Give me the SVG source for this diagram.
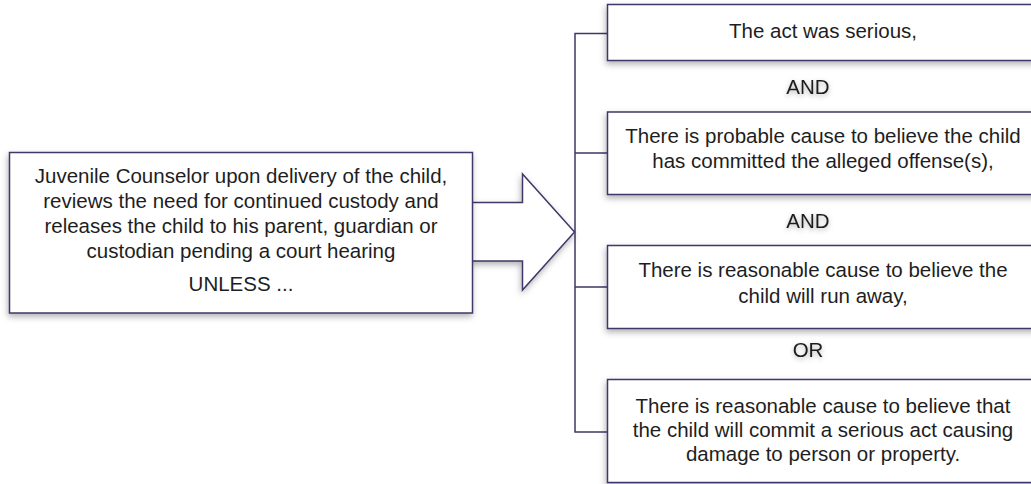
<svg xmlns="http://www.w3.org/2000/svg" width="1031" height="484" viewBox="0 0 1031 484">
<defs>
<filter id="sh" x="-10%" y="-20%" width="120%" height="150%">
<feDropShadow dx="-1" dy="3" stdDeviation="3" flood-color="#000" flood-opacity="0.3"/>
</filter>
<filter id="tsh" x="-30%" y="-50%" width="160%" height="220%">
<feDropShadow dx="0" dy="2" stdDeviation="2.5" flood-color="#000" flood-opacity="0.3"/>
</filter>
<style>
.box{fill:#fff;stroke:#3f3768;stroke-width:1.5;filter:url(#sh)}
.t{font-family:"Liberation Sans",Arial,sans-serif;font-size:20.5px;fill:#1e1e1e;text-anchor:middle}
.lbl{filter:url(#tsh)}
.con{fill:none;stroke:#3f3768;stroke-width:1.5}
</style>
</defs>
<rect width="1031" height="484" fill="#fff"/>
<g id="connectors">
<path class="con" d="M607,33.5 H575 V432 H607 M575,153 H607 M575,287 H607"/>
<polygon class="box" points="472,202.5 522.5,202.5 522.5,174 574.5,232 522.5,290 522.5,261 472,261"/>
</g>
<g id="source">
<rect class="box" x="9.5" y="152.5" width="463" height="160.5"/>
<text class="t" x="241" y="183">Juvenile Counselor upon delivery of the child,</text>
<text class="t" x="241" y="208">reviews the need for continued custody and</text>
<text class="t" x="241" y="233">releases the child to his parent, guardian or</text>
<text class="t" x="241" y="258">custodian pending a court hearing</text>
<text class="t" x="241" y="291">UNLESS ...</text>
</g>
<g id="c1">
<rect class="box" x="607.5" y="4.5" width="432" height="56"/>
<text class="t" x="823" y="38">The act was serious,</text>
</g>
<g id="and1">
<text class="t lbl" x="808" y="94">AND</text>
</g>
<g id="c2">
<rect class="box" x="607.5" y="112" width="432" height="82.5"/>
<text class="t" x="823" y="143">There is probable cause to believe the child</text>
<text class="t" x="823" y="168">has committed the alleged offense(s),</text>
</g>
<g id="and2">
<text class="t lbl" x="808" y="228">AND</text>
</g>
<g id="c3">
<rect class="box" x="607.5" y="245.5" width="432" height="83"/>
<text class="t" x="823" y="277">There is reasonable cause to believe the</text>
<text class="t" x="823" y="303">child will run away,</text>
</g>
<g id="or1">
<text class="t lbl" x="808" y="357">OR</text>
</g>
<g id="c4">
<rect class="box" x="607.5" y="379.5" width="432" height="103"/>
<text class="t" x="823" y="413">There is reasonable cause to believe that</text>
<text class="t" x="823" y="437">the child will commit a serious act causing</text>
<text class="t" x="823" y="461">damage to person or property.</text>
</g>
</svg>
